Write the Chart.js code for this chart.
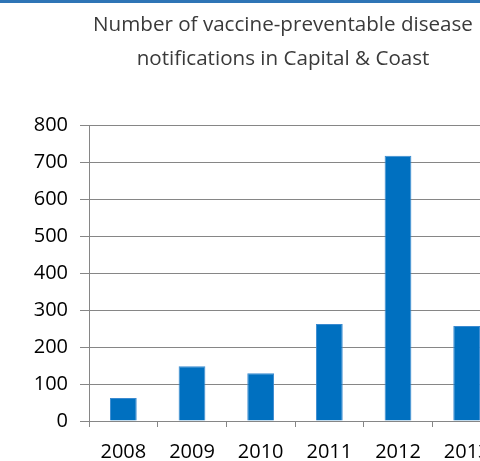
<!DOCTYPE html>
<html lang="en">
<head>
    <meta charset="UTF-8">
    <title>Vaccine-preventable disease notifications</title>
    <script src="https://cdn.jsdelivr.net/npm/chart.js"></script>
    <style>
        html, body {
            margin: 0;
            padding: 0;
            background: #fff;
            overflow: hidden;
        }
        .frame {
            border-top: 3px solid #2E75B6;
            width: 566px;
            height: 458px;
        }
    </style>
</head>
<body>
    <div class="frame">
        <canvas id="chart" width="566" height="458"></canvas>
    </div>
    <script>
        // values
        const years = ['2008', '2009', '2010', '2011', '2012', '2013'];
        const notifications = [62, 148, 129, 262, 717, 257];
        const yTicks = [0, 100, 200, 300, 400, 500, 600, 700, 800];

        const titleLines = ['Number of vaccine-preventable disease', 'notifications in Capital & Coast'];
        const gridColor = '#868686';
        const fontFamily = '"Open Sans", "Noto Sans", sans-serif';

        new Chart(document.getElementById('chart'), {
            type: 'bar',
            data: {
                labels: years,
                datasets: [{
                    data: notifications,
                    backgroundColor: '#0070C0',
                    borderColor: '#3A8AD0',
                    borderWidth: 1,
                    categoryPercentage: 1,
                    barPercentage: 0.39
                }]
            },
            options: {
                responsive: false,
                animation: false,
                layout: { padding: 0 },
                plugins: {
                    legend: { display: false },
                    tooltip: { enabled: false },
                    title: {
                        display: true,
                        text: titleLines,
                        color: '#3A3A3A',
                        font: { family: fontFamily, size: 20.6, weight: 'normal', lineHeight: '34px' },
                        padding: { top: 5, bottom: 49 }
                    }
                },
                scales: {
                    x: {
                        grid: {
                            offset: true,
                            drawOnChartArea: false,
                            drawTicks: true,
                            tickLength: 6,
                            color: gridColor
                        },
                        border: { color: gridColor },
                        ticks: {
                            color: '#000',
                            padding: 13,
                            font: { family: fontFamily, size: 20 }
                        },
                        afterFit: s => { s.height = 40; }
                    },
                    y: {
                        min: 0,
                        max: 800,
                        afterBuildTicks: s => { s.ticks = yTicks.map(v => ({ value: v })); },
                        grid: {
                            color: gridColor,
                            tickLength: 9
                        },
                        border: { color: gridColor },
                        ticks: {
                            color: '#000',
                            padding: 12,
                            font: { family: fontFamily, size: 20 }
                        },
                        afterFit: s => { s.width = 89; }
                    },
                    // empty space on the right so the plot runs past the window edge
                    spacer: {
                        type: 'linear',
                        position: 'right',
                        grid: { display: false },
                        border: { display: false },
                        ticks: { display: false },
                        afterFit: s => { s.width = 65; }
                    }
                }
            }
        });
    </script>
</body>
</html>
